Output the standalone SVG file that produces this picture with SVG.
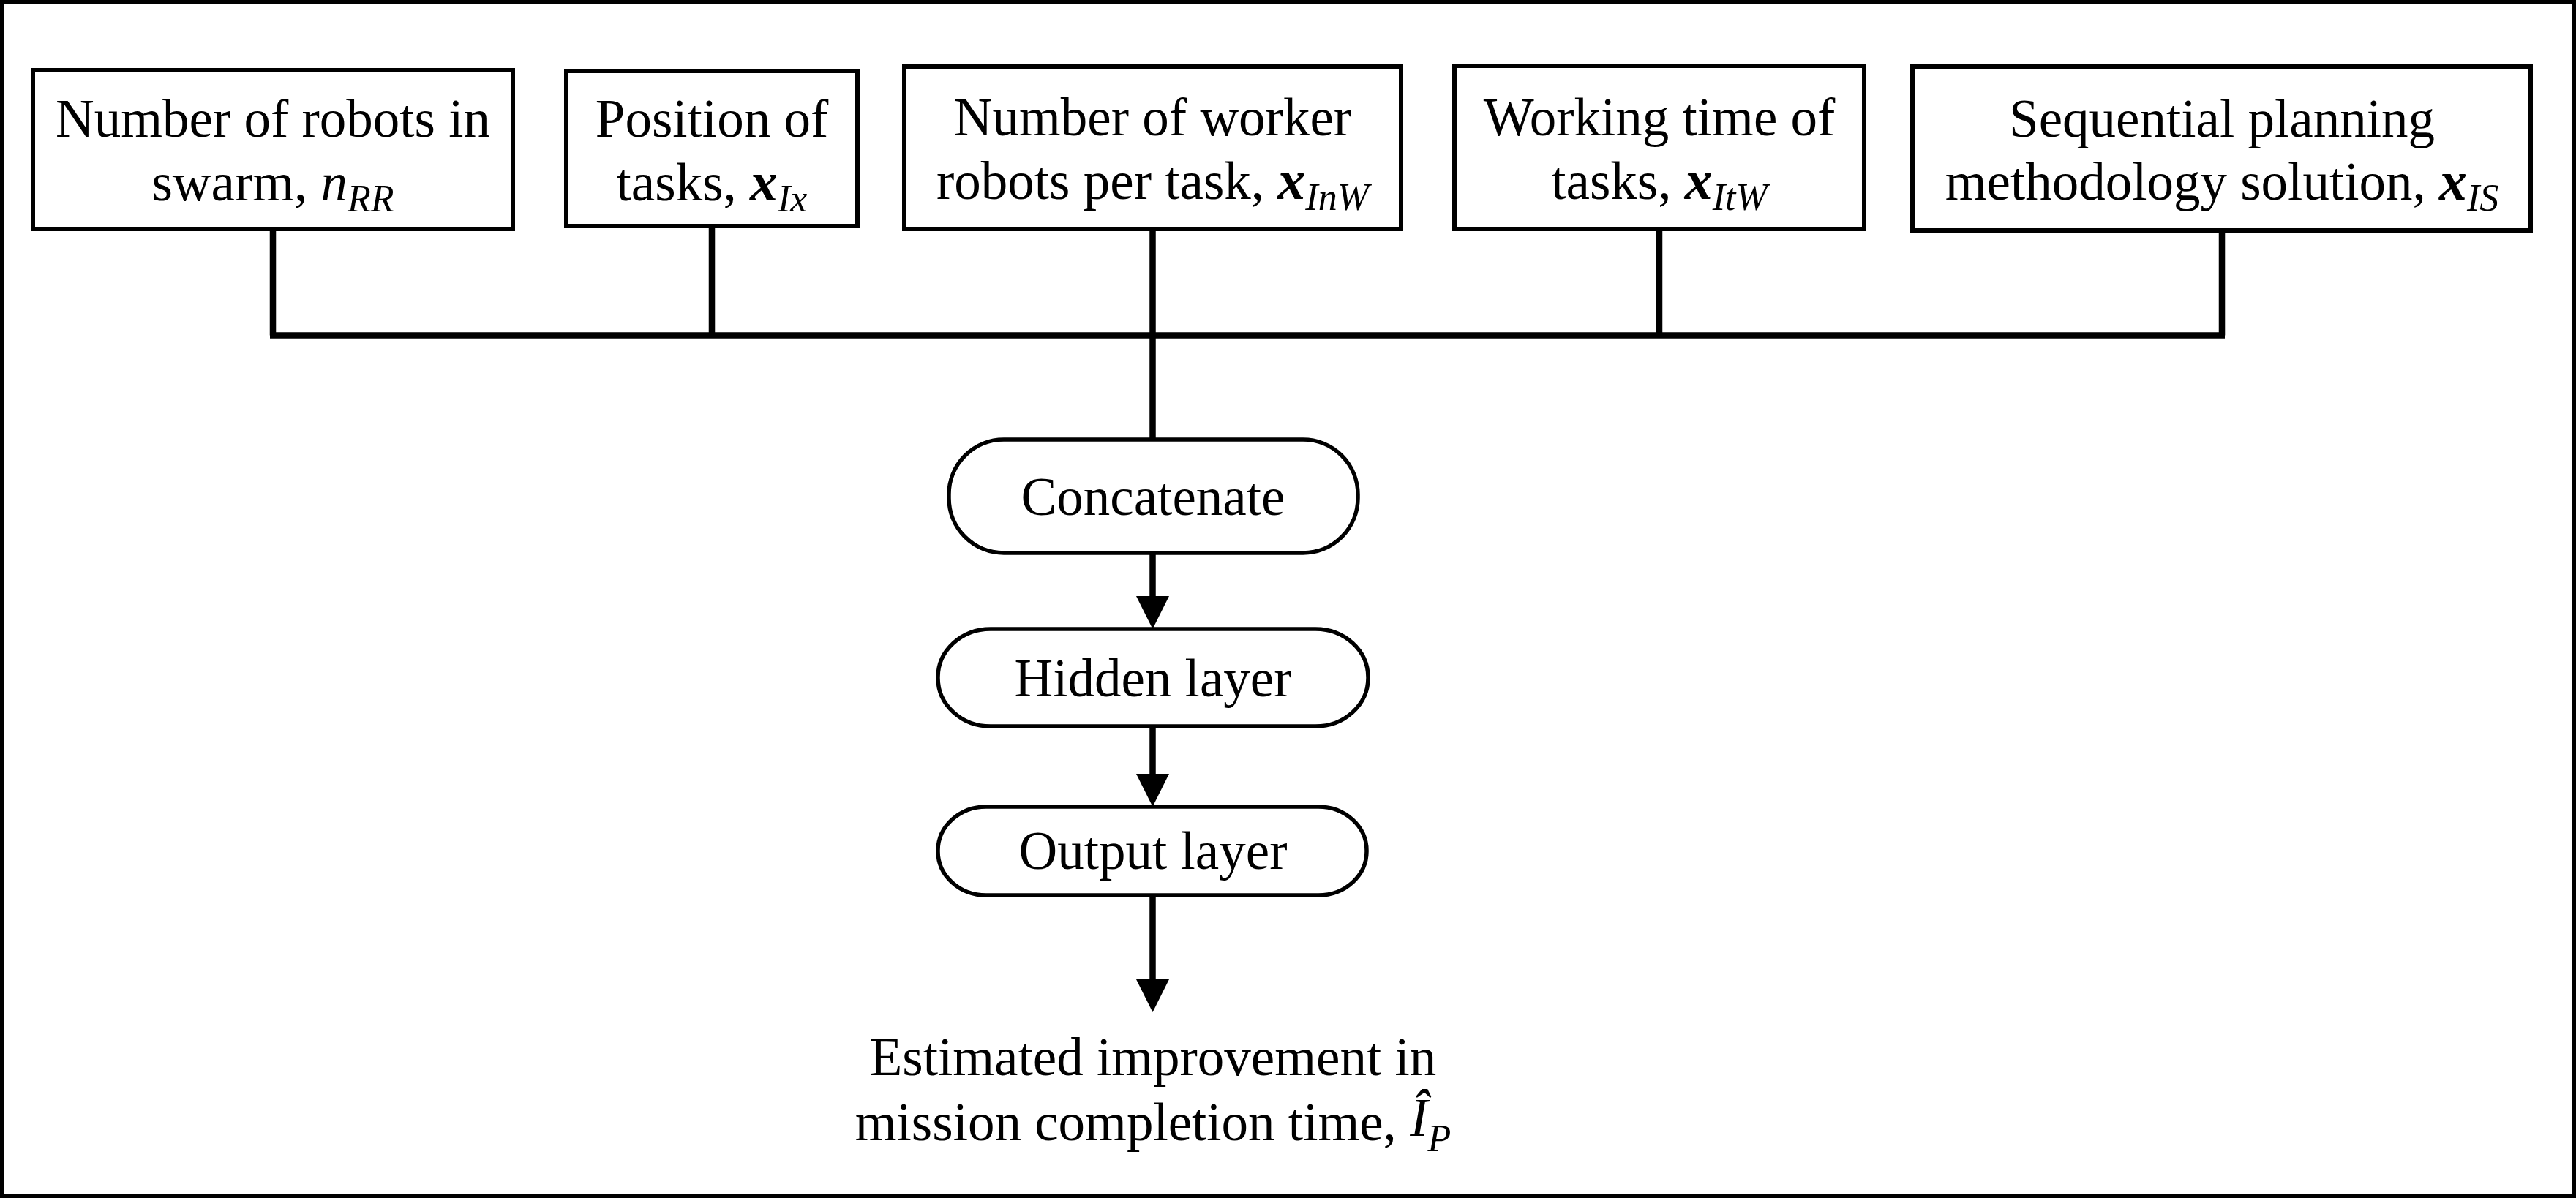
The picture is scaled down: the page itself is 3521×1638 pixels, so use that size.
<svg xmlns="http://www.w3.org/2000/svg" width="3521" height="1638" viewBox="0 0 3521 1638">
<style>
.box{fill:#fff;stroke:#000;stroke-width:6}
.pill{fill:#fff;stroke:#000;stroke-width:5.5}
.conn{fill:none;stroke:#000;stroke-width:8.5}
text{font-family:"Liberation Serif","Times New Roman",serif;font-size:73px;fill:#000;text-anchor:middle}
.m{font-style:italic}
.mb{font-style:italic;font-weight:bold;font-size:76px}
.sub{font-style:italic;font-size:52px}
</style>
<defs>
<marker id="ah" markerUnits="userSpaceOnUse" viewBox="0 0 45 45" refX="0" refY="22.5" markerWidth="45" markerHeight="45" orient="auto">
<path d="M0,0 L45,22.5 L0,45 Z" fill="#000"/>
</marker>
</defs>
<rect x="2.5" y="2.5" width="3516" height="1633" fill="#fff" stroke="#000" stroke-width="5"/>
<g id="connectors">
<path class="conn" d="M373,313 V458.5 M973,309 V458.5 M1575.5,313 V601 M2268,313 V458.5 M3037,315 V458.5 M369,458.5 H3041"/>
<path class="conn" d="M1575.5,756 V815" marker-end="url(#ah)"/>
<path class="conn" d="M1575.5,993 V1058" marker-end="url(#ah)"/>
<path class="conn" d="M1575.5,1224 V1339" marker-end="url(#ah)"/>
</g>
<g id="n1">
<rect class="box" x="45" y="96" width="656" height="217"/>
<text x="373" y="187">Number of robots in</text>
<text x="373" y="274">swarm, <tspan class="m">n</tspan><tspan class="sub" dy="15">RR</tspan></text>
</g>
<g id="n2">
<rect class="box" x="774" y="97" width="398" height="212"/>
<text x="973" y="187">Position of</text>
<text x="973" y="274">tasks, <tspan class="mb">x</tspan><tspan class="sub" dy="15">Ix</tspan></text>
</g>
<g id="n3">
<rect class="box" x="1236" y="91" width="679" height="222"/>
<text x="1575.5" y="185">Number of worker</text>
<text x="1575.5" y="272">robots per task, <tspan class="mb">x</tspan><tspan class="sub" dy="15">InW</tspan></text>
</g>
<g id="n4">
<rect class="box" x="1988" y="90" width="560" height="223"/>
<text x="2268" y="185">Working time of</text>
<text x="2268" y="272">tasks, <tspan class="mb">x</tspan><tspan class="sub" dy="15">ItW</tspan></text>
</g>
<g id="n5">
<rect class="box" x="2614" y="91" width="845" height="224"/>
<text x="3037" y="187">Sequential planning</text>
<text x="3037" y="273">methodology solution, <tspan class="mb">x</tspan><tspan class="sub" dy="15">IS</tspan></text>
</g>
<g id="concat">
<rect class="pill" x="1297" y="601" width="559" height="155" rx="75" ry="75"/>
<text x="1576" y="704">Concatenate</text>
</g>
<g id="hidden">
<rect class="pill" x="1282" y="860" width="588" height="133" rx="72" ry="66"/>
<text x="1576" y="952">Hidden layer</text>
</g>
<g id="output">
<rect class="pill" x="1282" y="1103" width="586" height="121" rx="66" ry="60"/>
<text x="1576" y="1188">Output layer</text>
</g>
<g id="result">
<text x="1576" y="1470">Estimated improvement in</text>
<text x="1576" y="1559">mission completion time, <tspan class="m" dy="-6">Î</tspan><tspan class="sub" dy="21">P</tspan></text>
</g>
</svg>
